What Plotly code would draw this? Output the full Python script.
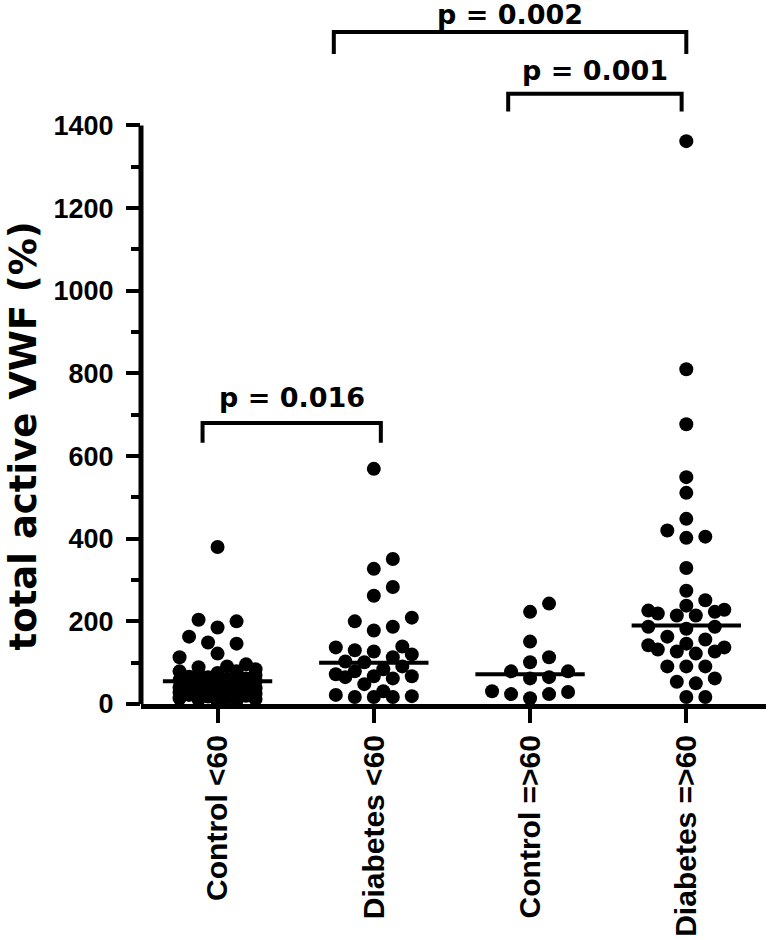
import math
import plotly.graph_objects as go

# ---- data ----
categories = ["Control <60", "Diabetes <60", "Control =>60", "Diabetes =>60"]

control_lt60 = [380, 204, 200, 185, 163, 149, 146, 122, 113, 96, 91, 89, 84, 79, 79, 72,
                70, 65, 62, 60, 58, 55, 55, 52, 50, 48, 45, 42, 40, 38, 35, 32, 30, 28,
                25, 22, 20, 18, 15, 12, 10, 8, 68, 75, 66, 44, 36, 26, 14, 6]
diabetes_lt60 = [569, 351, 327, 283, 262, 209, 200, 187, 178, 139, 137, 130, 127, 120,
                 113, 103, 101, 91, 84, 79, 72, 67, 67, 65, 62, 48, 31, 22, 19, 17, 17, 17]
control_ge60 = [243, 223, 151, 113, 101, 79, 79, 65, 62, 31, 29, 24, 24, 14]
diabetes_ge60 = [1362, 810, 677, 549, 511, 448, 420, 405, 402, 329, 274, 251, 238, 228,
                 226, 223, 219, 214, 214, 187, 187, 182, 163, 156, 146, 142, 137, 132,
                 127, 127, 122, 91, 91, 91, 62, 54, 50, 17, 17]
groups = [control_lt60, diabetes_lt60, control_ge60, diabetes_ge60]
medians = [55, 100, 72, 190]

y_ticks = [0, 200, 400, 600, 800, 1000, 1200, 1400]
y_minor = [100, 300, 500, 700, 900, 1100, 1300]

# comparisons: (x_left, x_right, bar level, leg bottom, label level, label)
comparisons = [
    (-0.096, 1.045, 680, 632, 742, "p = 0.016"),
    (0.744, 3.0, 1626, 1573, 1668, "p = 0.002"),
    (1.86, 2.97, 1477, 1434, 1532, "p = 0.001"),
]

# ---- geometry ----
W, H = 769, 940
ML, MR, MT, MB = 141, 3, 5, 227
plot_h = H - MT - MB
px_per_unit = 586 / 1400.0
y_top = plot_h / px_per_unit
x_range = [-0.49, 3.51]
px_per_cat = (W - ML - MR) / (x_range[1] - x_range[0])

FONT = "Arial, Liberation Sans, Helvetica, sans-serif"
WIDE = "DejaVu Sans, Verdana, sans-serif"


def swarm(vals, half_step=9.5, diam=14.0, maxk=4):
    placed = []
    offs = [0.0] * len(vals)
    order = sorted(range(len(vals)), key=lambda i: vals[i])
    cands = [0]
    for k in range(1, maxk + 1):
        cands += [k, -k]
    for i in order:
        y = vals[i] * px_per_unit
        best = None
        for k in cands:
            x = k * half_step
            ov = 0.0
            for (px, py) in placed:
                d = math.hypot(x - px, y - py)
                if d < diam:
                    ov += diam - d
            score = ov + 0.01 * abs(k)
            if ov == 0:
                best = (x, 0)
                break
            if best is None or score < best[1]:
                best = (x, score)
        placed.append((best[0], y))
        offs[i] = best[0] / px_per_cat
    return offs


fig = go.Figure()

for gi, vals in enumerate(groups):
    offs = swarm(vals)
    fig.add_trace(go.Scatter(
        x=[gi + o for o in offs], y=vals, mode="markers",
        marker=dict(size=14, color="black", line=dict(width=0)),
        cliponaxis=False, showlegend=False, hoverinfo="y"))
    fig.add_trace(go.Scatter(
        x=[gi - 0.35, gi + 0.35], y=[medians[gi], medians[gi]], mode="lines",
        line=dict(color="black", width=4), showlegend=False, hoverinfo="skip"))

for (xl, xr, lev, leg, tl, label) in comparisons:
    fig.add_trace(go.Scatter(
        x=[xl, xl, xr, xr], y=[leg, lev, lev, leg], mode="lines",
        line=dict(color="black", width=4), showlegend=False, hoverinfo="skip"))
    fig.add_annotation(x=(xl + xr) / 2, y=tl, xref="x", yref="y", text=label,
                       showarrow=False, font=dict(family=WIDE, size=27, color="black", weight="bold"),
                       xanchor="center", yanchor="middle")

# y axis line only up to 1400
fig.add_shape(type="line", xref="paper", yref="y", x0=0, x1=0, y0=0, y1=1400,
              line=dict(color="black", width=5))

fig.add_annotation(text="total active VWF (%)", xref="paper", yref="y",
                   x=(23 - ML) / (W - ML - MR), y=(713 - 442) / px_per_unit,
                   textangle=-90, showarrow=False, xanchor="center", yanchor="middle",
                   font=dict(family=WIDE, size=37, color="black", weight="bold"))

fig.update_layout(
    width=W, height=H,
    margin=dict(l=ML, r=MR, t=MT, b=MB, pad=0),
    plot_bgcolor="white", paper_bgcolor="white",
    xaxis=dict(range=x_range, tickmode="array", tickvals=list(range(len(categories))),
               ticktext=categories, tickangle=-90, showline=True, linecolor="black",
               linewidth=5, ticks="outside", ticklen=14, tickwidth=4, tickcolor="black",
               showgrid=False, zeroline=False,
               tickfont=dict(family=FONT, size=30, color="black", weight="bold")),
    yaxis=dict(range=[0, y_top], tickmode="array", tickvals=y_ticks,
               ticktext=[str(v) for v in y_ticks], showline=False, ticks="outside",
               ticklen=14, tickwidth=4, tickcolor="black", showgrid=False, zeroline=False,
               ticklabelstandoff=7,
               tickfont=dict(family=FONT, size=27, color="black", weight="bold"),
               minor=dict(tickmode="array", tickvals=y_minor, ticks="outside",
                          ticklen=9, tickwidth=4, tickcolor="black", showgrid=False)),
)

fig.write_html("out.html", config={"displayModeBar": False},
               post_script="document.body.style.margin='0';document.body.style.overflow='hidden';")
